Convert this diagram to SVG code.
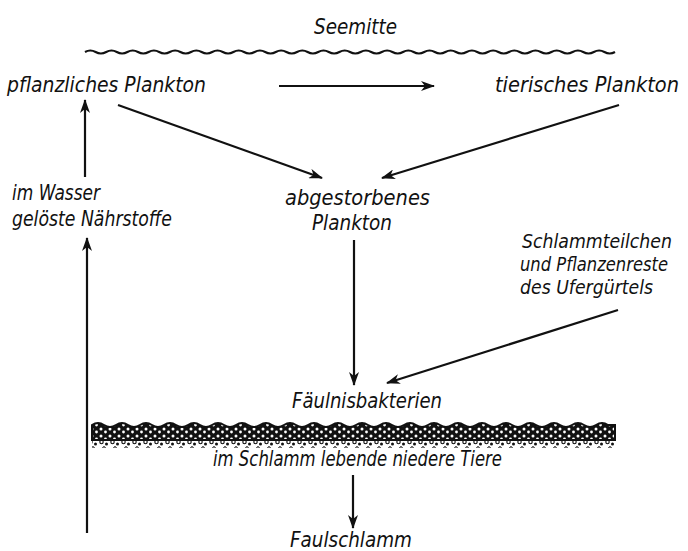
<svg xmlns="http://www.w3.org/2000/svg" width="688" height="551" viewBox="0 0 688 551">
<style>
text{font-family:"Liberation Sans Narrow","DejaVu Sans Condensed","Liberation Sans",sans-serif;font-style:italic;font-size:22px;fill:#111}
.s{font-size:20px}
.c{stroke:#111;stroke-width:2.2;fill:none}
</style>
<defs>
<marker id="ah" viewBox="0 0 14 10" refX="13" refY="5" markerWidth="14" markerHeight="10" markerUnits="userSpaceOnUse" orient="auto">
<path d="M0,0 L14,5 L0,10 L4,5 Z" fill="#111"/>
</marker>
<pattern id="grav" width="9" height="7" patternUnits="userSpaceOnUse">
<rect width="9" height="7" fill="#111"/>
<circle cx="2" cy="2" r="1.5" fill="#fff"/>
<circle cx="6.5" cy="5" r="1.4" fill="#fff"/>
</pattern>
<pattern id="grit" width="11" height="10" patternUnits="userSpaceOnUse">
<circle cx="2.5" cy="2" r="1.7" fill="#fff" stroke="#111" stroke-width="1.1"/>
<circle cx="7.5" cy="4" r="1.5" fill="#111"/>
<circle cx="5" cy="8" r="1.3" fill="#fff" stroke="#111" stroke-width="1"/>
</pattern>
</defs>

<g id="surface">
<path class="c" stroke-width="2" d="M85,52 q5.3,-3 10.6,0 t10.6,0 t10.6,0 t10.6,0 t10.6,0 t10.6,0 t10.6,0 t10.6,0 t10.6,0 t10.6,0 t10.6,0 t10.6,0 t10.6,0 t10.6,0 t10.6,0 t10.6,0 t10.6,0 t10.6,0 t10.6,0 t10.6,0 t10.6,0 t10.6,0 t10.6,0 t10.6,0 t10.6,0 t10.6,0 t10.6,0 t10.6,0 t10.6,0 t10.6,0 t10.6,0 t10.6,0 t10.6,0 t10.6,0 t10.6,0 t10.6,0 t10.6,0 t10.6,0 t10.6,0 t10.6,0 t10.6,0 t10.6,0 t10.6,0 t10.6,0 t10.6,0 t10.6,0 t10.6,0 t10.6,0 t10.6,0 t10.6,0"/>
<text x="314" y="34" textLength="83" lengthAdjust="spacingAndGlyphs">Seemitte</text>
</g>

<g id="sediment">
<rect x="92" y="436" width="523" height="12" fill="url(#grit)"/>
<path fill="url(#grav)" stroke="#111" stroke-width="2" d="M92,425 q6,-4 12,0 t12,0 t12,0 t12,0 t12,0 t12,0 t12,0 t12,0 t12,0 t12,0 t12,0 t12,0 t12,0 t12,0 t12,0 t12,0 t12,0 t12,0 t12,0 t12,0 t12,0 t12,0 t12,0 t12,0 t12,0 t12,0 t12,0 t12,0 t12,0 t12,0 t12,0 t12,0 t12,0 t12,0 t12,0 t12,0 t12,0 t12,0 t12,0 t12,0 t12,0 t12,0 t12,0 L615,425 L615,440 L92,440 Z"/>
</g>

<g id="connectors">
<line class="c" x1="279" y1="86" x2="434" y2="86" marker-end="url(#ah)"/>
<line class="c" x1="118" y1="105" x2="322" y2="178" marker-end="url(#ah)"/>
<line class="c" x1="619" y1="105" x2="382" y2="178" marker-end="url(#ah)"/>
<line class="c" x1="85" y1="177" x2="85" y2="100" marker-end="url(#ah)"/>
<line class="c" x1="87" y1="533" x2="87" y2="238" marker-end="url(#ah)"/>
<line class="c" x1="354" y1="240" x2="354" y2="385" marker-end="url(#ah)"/>
<line class="c" x1="618" y1="310" x2="387" y2="383" marker-end="url(#ah)"/>
<line class="c" x1="353" y1="475" x2="353" y2="528" marker-end="url(#ah)"/>
</g>

<g id="pflanzliches-plankton"><text x="7" y="92" textLength="199" lengthAdjust="spacingAndGlyphs">pflanzliches Plankton</text></g>
<g id="tierisches-plankton"><text x="495" y="92" textLength="184" lengthAdjust="spacingAndGlyphs">tierisches Plankton</text></g>
<g id="naehrstoffe">
<text x="12" y="200" textLength="88" lengthAdjust="spacingAndGlyphs">im Wasser</text>
<text x="12" y="226" textLength="160" lengthAdjust="spacingAndGlyphs">gelöste Nährstoffe</text>
</g>
<g id="abgestorbenes-plankton">
<text x="285" y="205" textLength="145" lengthAdjust="spacingAndGlyphs">abgestorbenes</text>
<text x="312" y="230" textLength="80" lengthAdjust="spacingAndGlyphs">Plankton</text>
</g>
<g id="schlammteilchen">
<text class="s" x="522" y="248" textLength="150" lengthAdjust="spacingAndGlyphs">Schlammteilchen</text>
<text class="s" x="520" y="271" textLength="148" lengthAdjust="spacingAndGlyphs">und Pflanzenreste</text>
<text class="s" x="520" y="294" textLength="133" lengthAdjust="spacingAndGlyphs">des Ufergürtels</text>
</g>
<g id="faeulnisbakterien"><text x="292" y="408" textLength="150" lengthAdjust="spacingAndGlyphs">Fäulnisbakterien</text></g>
<g id="tiere"><text x="213" y="466" textLength="289" lengthAdjust="spacingAndGlyphs">im Schlamm lebende niedere Tiere</text></g>
<g id="faulschlamm"><text x="290" y="547" textLength="122" lengthAdjust="spacingAndGlyphs">Faulschlamm</text></g>
</svg>
